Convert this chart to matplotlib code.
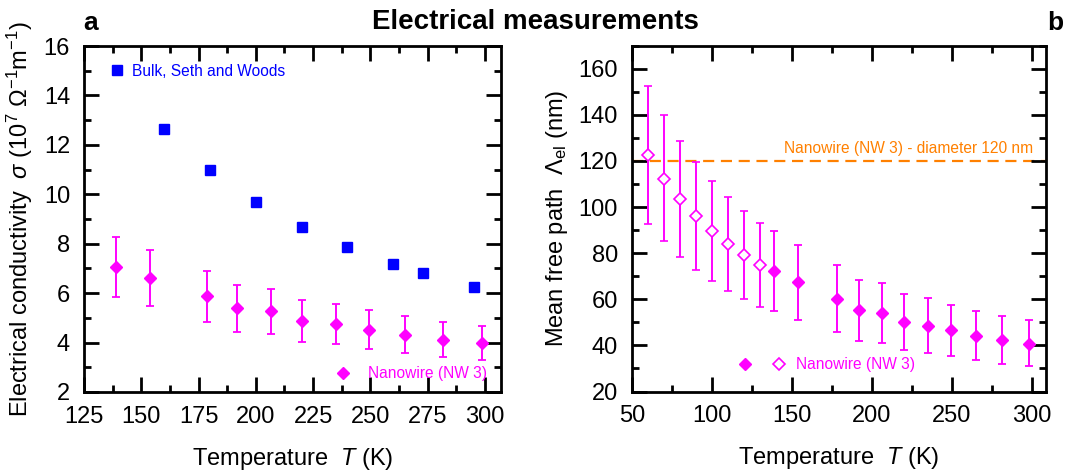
import matplotlib
matplotlib.use("Agg")
import matplotlib.pyplot as plt
from matplotlib import rcParams
from matplotlib.ticker import MultipleLocator
from matplotlib.legend_handler import HandlerTuple
rcParams["font.family"]=["Liberation Sans","DejaVu Sans"]
rcParams["mathtext.fontset"]="custom"
rcParams["mathtext.rm"]="Liberation Sans"
rcParams["mathtext.it"]="Liberation Sans:italic"

# panel a: bulk data (Seth and Woods)
bulk_T=[160,180,200,220,240,260,273,295]
bulk_sigma=[12.65,10.97,9.69,8.68,7.88,7.19,6.81,6.25]
# panel a: nanowire NW 3
nw_T=[139,154,178.5,192,206.5,220,235,249.5,265,281.5,298.7]
nw_sigma=[7.06,6.60,5.88,5.38,5.26,4.89,4.75,4.52,4.31,4.12,3.98]
nw_sigma_err=[1.22,1.14,1.03,0.94,0.91,0.85,0.82,0.78,0.75,0.70,0.68]
# panel b: mean free path, open symbols (low T) and filled symbols
mfp_T_open=[60,70,80,90,100,110,120,130]
mfp_open=[122.6,112.2,103.4,96.0,89.5,84.0,79.0,74.7]
mfp_open_lo=[29.8,27.0,25.0,23.1,21.6,20.4,19.1,18.0]
mfp_open_hi=[29.7,27.5,25.2,23.4,21.9,20.4,19.4,18.5]
mfp_T_fill=nw_T
mfp_fill=[72.2,67.4,60.2,55.2,53.9,50.0,48.5,46.5,44.2,42.2,40.7]
mfp_fill_lo=[17.5,16.5,14.6,13.3,13.0,12.1,11.6,11.2,10.7,10.1,9.8]
mfp_fill_hi=[17.5,16.3,14.7,13.2,13.1,12.2,12.1,11.2,10.9,10.4,10.1]
diameter=120

pink="#ff00ff"; blue="#0000ff"; orange="#ff8000"
fig=plt.figure(figsize=(10.71,4.70),dpi=100)
axa=fig.add_axes([0.0784,0.166,0.3894,0.736])
axb=fig.add_axes([0.590,0.167,0.3866,0.736])

def style(ax):
    for s in ax.spines.values(): s.set_linewidth(2)
    ax.tick_params(which="both",direction="in",top=True,right=True,width=2,labelsize=17)
    ax.tick_params(which="major",length=11,pad=10)
    ax.tick_params(which="minor",length=5)
    ax.set_xlabel(r"Temperature  $T$ (K)",fontsize=17,labelpad=13)

# panel a
hb,=axa.plot(bulk_T,bulk_sigma,"s",color=blue,ms=6.5,label="Bulk, Seth and Woods")
eb=axa.errorbar(nw_T,nw_sigma,yerr=nw_sigma_err,fmt="D",color=pink,ms=6.5,capsize=3,elinewidth=1.4,capthick=1.3)
axa.set_xlim(125,307); axa.set_ylim(2,16)
axa.xaxis.set_major_locator(MultipleLocator(25)); axa.xaxis.set_minor_locator(MultipleLocator(12.5))
axa.yaxis.set_major_locator(MultipleLocator(2)); axa.yaxis.set_minor_locator(MultipleLocator(1))
style(axa)
axa.set_ylabel(r"Electrical conductivity  $\sigma$ (10$^7$ $\Omega^{-1}$m$^{-1}$)",fontsize=17,labelpad=6)
lg=axa.legend(handles=[hb],loc="upper left",frameon=False,fontsize=11.2,labelcolor=blue,handlelength=0.8,handletextpad=0.6,bbox_to_anchor=(0.03,0.99))
axa.add_artist(lg)
axa.legend(handles=[eb[0]],labels=["Nanowire (NW 3)"],loc="lower right",frameon=False,fontsize=11.2,labelcolor=pink,handlelength=0.8,handletextpad=1.2,bbox_to_anchor=(1.0,-0.01))

# panel b
ebf=axb.errorbar(mfp_T_fill,mfp_fill,yerr=[mfp_fill_lo,mfp_fill_hi],fmt="D",color=pink,ms=6.5,capsize=3,elinewidth=1.4,capthick=1.3)
ebo=axb.errorbar(mfp_T_open,mfp_open,yerr=[mfp_open_lo,mfp_open_hi],fmt="D",color=pink,mfc="white",mew=1.2,ms=6.5,capsize=3,elinewidth=1.4,capthick=1.3)
axb.axhline(diameter,color=orange,ls=(0,(5,3)),lw=1.6,zorder=0)
axb.text(0.968,(diameter+2-20)/150,"Nanowire (NW 3) - diameter 120 nm",transform=axb.transAxes,ha="right",va="bottom",color=orange,fontsize=11.2)
axb.set_xlim(50,309); axb.set_ylim(20,170)
axb.xaxis.set_major_locator(MultipleLocator(50)); axb.xaxis.set_minor_locator(MultipleLocator(25))
axb.yaxis.set_major_locator(MultipleLocator(20)); axb.yaxis.set_minor_locator(MultipleLocator(10))
style(axb)
axb.set_ylabel(r"Mean free path  $\mathit{\Lambda}_{\mathrm{el}}$ (nm)",fontsize=17,labelpad=6)
axb.legend(handles=[(ebf[0],ebo[0])],labels=["Nanowire (NW 3)"],handler_map={tuple:HandlerTuple(ndivide=None,pad=1.2)},loc="lower left",frameon=False,fontsize=11.2,labelcolor=pink,handlelength=3.2,handletextpad=0.6,bbox_to_anchor=(0.22,0.015))

fig.suptitle("Electrical measurements",fontsize=20,fontweight="bold",y=0.98)
fig.text(0.078,0.95,"a",fontsize=19,fontweight="bold",va="center")
fig.text(0.978,0.95,"b",fontsize=19,fontweight="bold",va="center")
fig.savefig("out.png",dpi=100)
